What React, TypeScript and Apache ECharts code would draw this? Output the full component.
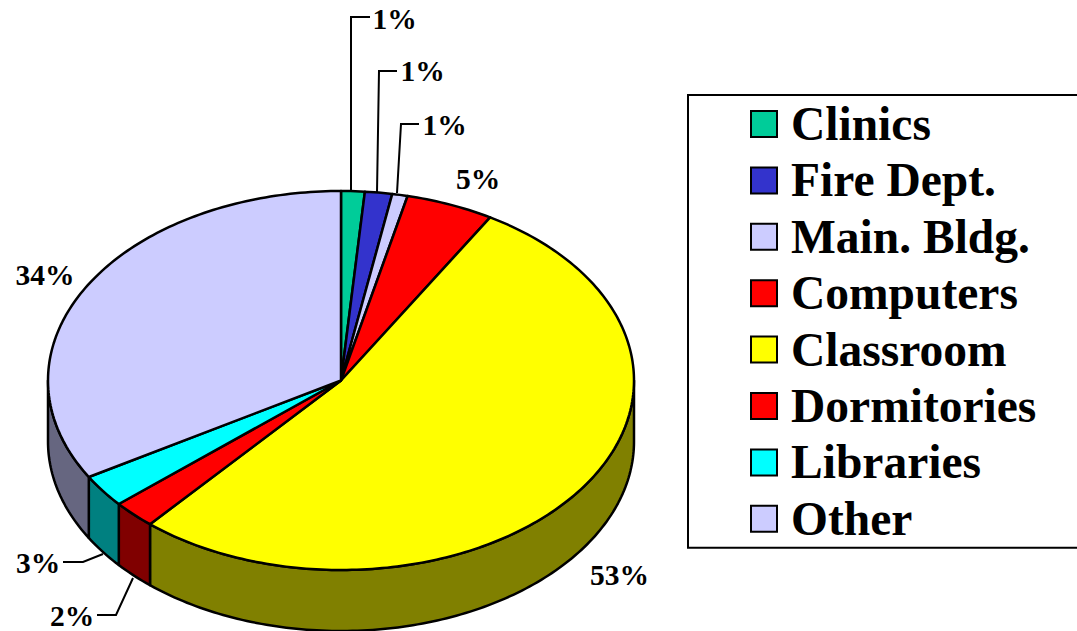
import React, { useEffect, useRef } from "react";
import * as echarts from "echarts";

const categories = ["Clinics", "Fire Dept.", "Main. Bldg.", "Computers", "Classroom", "Dormitories", "Libraries", "Other"];
const shares = [1.3, 1.5, 0.85, 4.85, 52.8, 2.4, 2.8, 33.5];
const percentLabels = ["1%", "1%", "1%", "5%", "53%", "2%", "3%", "34%"];
const topColors = ["#00CC99", "#3333CC", "#CCCCFF", "#FF0000", "#FFFF00", "#FF0000", "#00FFFF", "#CCCCFF"];
const sideColors = ["#006650", "#1A1A66", "#666680", "#800000", "#808000", "#800000", "#008080", "#666680"];

const labelCenters = [[394.5, 19], [422.5, 71], [444.5, 125], [478, 179], [619.5, 575], [72, 616], [38, 563], [45, 275]];
const leaderLines: number[][][] = [
  [[351, 191], [351, 17], [370, 17]],
  [[377, 192], [379, 71], [397, 71]],
  [[397, 193], [401, 124], [419, 124]],
  [],
  [],
  [[133, 578], [116, 615], [97, 615]],
  [[103, 554], [83, 562], [63, 562]],
  [],
];

const CX = 341;
const CY = 380.5;
const RX = 293;
const RY = 189.5;
const DEPTH = 61;
const STROKE = 2.5;

const total = shares.reduce((a, b) => a + b, 0);
const rim = (deg: number, dy = 0) => {
  const t = (deg * Math.PI) / 180;
  return [CX + RX * Math.sin(t), CY - RY * Math.cos(t) + dy];
};
const arcPoints = (a: number, b: number, dy = 0) => {
  const pts: number[][] = [];
  const n = Math.max(1, Math.ceil(Math.abs(b - a)));
  for (let i = 0; i <= n; i++) pts.push(rim(a + ((b - a) * i) / n, dy));
  return pts;
};

const renderSlice = (params: any, api: any) => {
  const idx = params.seriesIndex;
  const before = shares.slice(0, idx).reduce((a, b) => a + b, 0);
  const start = (before / total) * 360;
  const end = start + (Number(api.value(0)) / total) * 360;
  const children: any[] = [];
  const wa = Math.max(start, 90);
  const wb = Math.min(end, 270);
  if (wb > wa) {
    children.push({
      type: "polygon",
      shape: { points: [...arcPoints(wa, wb), ...arcPoints(wb, wa, DEPTH)] },
      style: { fill: sideColors[idx], stroke: "#000", lineWidth: STROKE, lineJoin: "round" },
    });
  }
  children.push({
    type: "polygon",
    shape: { points: [[CX, CY], ...arcPoints(start, end)] },
    style: { fill: topColors[idx], stroke: "#000", lineWidth: STROKE, lineJoin: "round" },
  });
  return { type: "group", children };
};

export default function App() {
  const ref = useRef<HTMLDivElement>(null);
  useEffect(() => {
    document.body.style.margin = "0";
    document.body.style.overflow = "hidden";
    const chart = echarts.init(ref.current!, undefined, { renderer: "svg" });
    chart.setOption({
      animation: false,
      backgroundColor: "#fff",
      legend: {
        data: categories,
        orient: "vertical",
        left: 688,
        top: 95,
        padding: [4, 120, 4, 62],
        icon: "rect",
        itemWidth: 26,
        itemHeight: 26,
        itemGap: 6.4,
        backgroundColor: "#fff",
        borderColor: "#000",
        borderWidth: 2,
        selectedMode: false,
        itemStyle: { borderColor: "#000", borderWidth: 2 },
        textStyle: {
          fontFamily: "Liberation Serif",
          fontWeight: "bold",
          fontSize: 47.5,
          lineHeight: 50,
          color: "#000",
          padding: [0, 0, 0, 9],
        },
      },
      series: categories.map((name, i) => ({
        type: "custom",
        name,
        coordinateSystem: "none",
        silent: true,
        itemStyle: { color: topColors[i] },
        renderItem: renderSlice,
        data: [[shares[i]]],
      })),
      graphic: [
        ...leaderLines
          .filter((l) => l.length)
          .map((points) => ({
            type: "polyline",
            shape: { points },
            style: { stroke: "#000", lineWidth: 2, fill: "none" },
            z: 10,
          })),
        ...percentLabels.map((text, i) => ({
          type: "text",
          x: labelCenters[i][0],
          y: labelCenters[i][1],
          style: {
            text,
            fontFamily: "Liberation Serif",
            fontWeight: "bold",
            fontSize: 29.5,
            fill: "#000",
            align: "center",
            verticalAlign: "middle",
          },
          z: 10,
        })),
      ],
    });
    return () => chart.dispose();
  }, []);
  return <div ref={ref} style={{ width: 1077, height: 631 }} />;
}
